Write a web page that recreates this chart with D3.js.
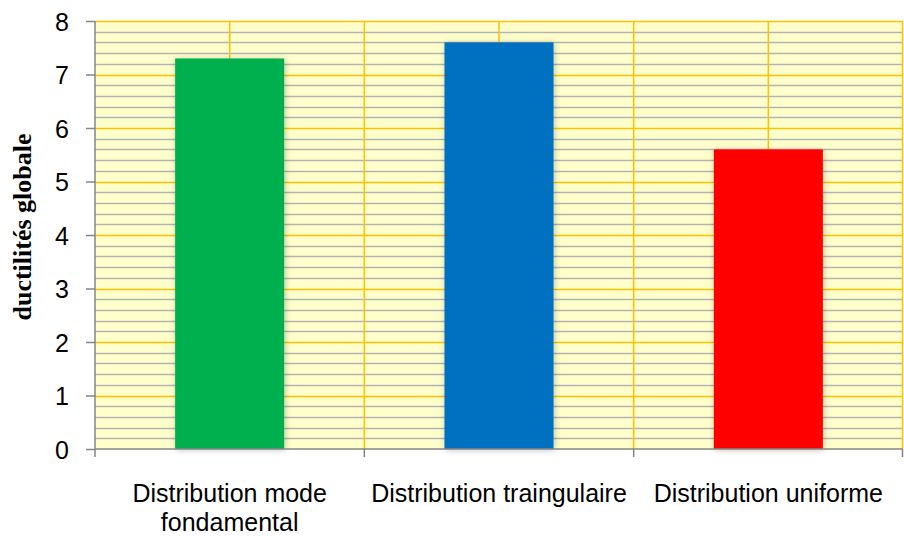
<!DOCTYPE html>
<html><head><meta charset="utf-8">
<script src="https://cdn.jsdelivr.net/npm/d3@7"></script>
<style>body{margin:0;background:#fff}</style>
</head><body>
<svg id="c" width="904" height="536"></svg>
<script>
const categories = [["Distribution mode","fondamental"],["Distribution traingulaire"],["Distribution uniforme"]];
const values = [7.3, 7.6, 5.6];
const colors = ["#00B050", "#0070C0", "#FF0000"];
const yTicks = [0,1,2,3,4,5,6,7,8];
const yMinor = d3.range(0, 8.001, 0.2);
const yTitle = "ductilités globale";

const svg = d3.select("#c");
const L = 95, R = 903, T = 21, B = 449;
const x = d3.scaleBand().domain(d3.range(categories.length)).range([L, R]).paddingInner(0).paddingOuter(0);
const y = d3.scaleLinear().domain([0, 8]).range([B, T]);

const defs = svg.append("defs");
const f = defs.append("filter").attr("id","sh").attr("x","-20%").attr("y","-20%").attr("width","140%").attr("height","140%");
f.append("feGaussianBlur").attr("in","SourceAlpha").attr("stdDeviation","3").attr("result","b");
f.append("feOffset").attr("dx","1").attr("dy","1").attr("result","o");
f.append("feComponentTransfer").append("feFuncA").attr("type","linear").attr("slope","0.25");
const m = f.append("feMerge"); m.append("feMergeNode"); m.append("feMergeNode").attr("in","SourceGraphic");

svg.append("rect").attr("x",L).attr("y",T).attr("width",R-L).attr("height",B-T).attr("fill","#FFFFCC");

// minor gridlines
svg.append("g").selectAll("line").data(yMinor.filter(v => Math.abs(v - Math.round(v)) > 1e-6)).join("line")
  .attr("x1",L).attr("x2",R).attr("y1",d=>Math.round(y(d))+0.5).attr("y2",d=>Math.round(y(d))+0.5)
  .attr("stroke","#B4B4B4").attr("stroke-width",1.5);
// major gridlines
svg.append("g").selectAll("line").data(yTicks.filter(v=>v>0)).join("line")
  .attr("x1",L).attr("x2",R).attr("y1",d=>Math.round(y(d))+0.5).attr("y2",d=>Math.round(y(d))+0.5)
  .attr("stroke","#FFC000").attr("stroke-width",1.5);
// vertical gridlines: band centers and boundaries
const vx = [];
categories.forEach((c,i)=>{ vx.push(x(i)+x.bandwidth()/2); if(i>0) vx.push(x(i)); });
vx.push(R-0.5);
svg.append("g").selectAll("line").data(vx).join("line")
  .attr("x1",d=>d).attr("x2",d=>d).attr("y1",T).attr("y2",B)
  .attr("stroke","#FFC000").attr("stroke-width",1.5);

// bars
const bw = x.bandwidth()*0.405;
svg.append("g").selectAll("rect").data(values).join("rect")
  .attr("x",(d,i)=>x(i)+x.bandwidth()/2-bw/2).attr("width",bw)
  .attr("y",d=>y(d)).attr("height",d=>B-y(d))
  .attr("fill",(d,i)=>colors[i]).attr("filter","url(#sh)");

// y axis
const ya = svg.append("g").attr("transform",`translate(${L},0)`)
  .call(d3.axisLeft(y).tickValues(yTicks).tickSize(9).tickPadding(17).tickFormat(d3.format("d")));
ya.select(".domain").attr("stroke","#868686").attr("stroke-width",1.5).attr("d",`M0,${T}V${B}`);
ya.selectAll(".tick line").attr("stroke","#868686").attr("stroke-width",1.5);
ya.selectAll(".tick text").attr("font-family","'Liberation Sans',Arial,sans-serif").attr("font-size",25).attr("fill","#000").attr("dy","0.36em");

// x axis
const xa = svg.append("g").attr("transform",`translate(0,${B})`);
xa.append("line").attr("x1",L).attr("x2",R).attr("y1",0).attr("y2",0).attr("stroke","#868686").attr("stroke-width",1.5);
const bounds = [L, ...categories.slice(1).map((c,i)=>x(i+1)), R-0.5];
xa.selectAll("line.t").data(bounds).join("line").attr("class","t")
  .attr("x1",d=>d).attr("x2",d=>d).attr("y1",0).attr("y2",8).attr("stroke","#868686").attr("stroke-width",1.5);
const lab = svg.append("g").attr("font-family","'Liberation Sans',Arial,sans-serif").attr("font-size",25).attr("fill","#000").attr("text-anchor","middle");
categories.forEach((c,i)=>{
  const t = lab.append("text").attr("x",x(i)+x.bandwidth()/2).attr("y",502);
  c.forEach((line,j)=>t.append("tspan").attr("x",x(i)+x.bandwidth()/2).attr("dy",j?29:0).text(line));
});

svg.append("text").attr("transform","translate(31,227) rotate(-90)").attr("text-anchor","middle")
  .attr("font-family","'Liberation Serif','Times New Roman',serif").attr("font-weight","bold").attr("font-size",26).text(yTitle);
</script>
</body></html>
